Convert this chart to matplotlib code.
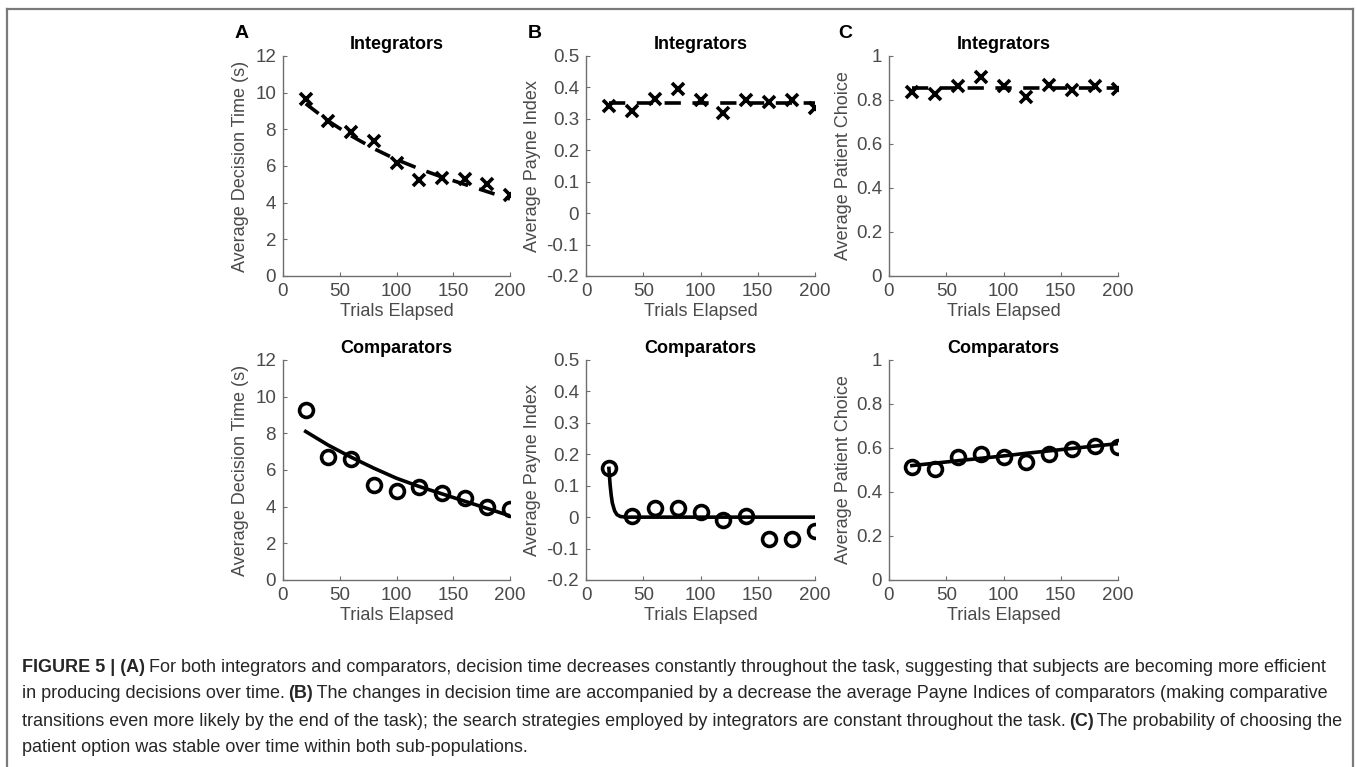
import numpy as np
import matplotlib
matplotlib.use("Agg")
import matplotlib.pyplot as plt
from matplotlib.lines import Line2D

plt.rcParams['font.family'] = ['Liberation Sans', 'DejaVu Sans']

# trials elapsed
trials = [20, 40, 60, 80, 100, 120, 140, 160, 180, 200]

# decision time (s)
dt_int = [9.67, 8.43, 7.83, 7.34, 6.19, 5.25, 5.32, 5.30, 5.00, 4.40]
dt_int_fit = [9.40, 8.45, 7.65, 6.95, 6.35, 5.85, 5.40, 5.00, 4.60, 4.20]
dt_cmp = [9.30, 6.70, 6.60, 5.20, 4.85, 5.10, 4.75, 4.50, 4.00, 3.85]
dt_cmp_fit = [8.10, 7.35, 6.70, 6.10, 5.55, 5.10, 4.70, 4.30, 3.90, 3.50]

# payne index
pi_int = [0.340, 0.325, 0.362, 0.396, 0.360, 0.320, 0.360, 0.355, 0.360, 0.333]
pi_int_fit = [0.35] * 10
pi_cmp = [0.155, 0.005, 0.030, 0.030, 0.015, -0.010, 0.005, -0.070, -0.068, -0.045]
pi_fit_x = [20, 21, 22, 23, 25, 27, 30, 35, 40, 200]
pi_fit_y = [0.155, 0.105, 0.070, 0.045, 0.020, 0.008, 0.002, 0.0, 0.0, 0.0]

# patient choice
pc_int = [0.835, 0.829, 0.865, 0.906, 0.864, 0.815, 0.870, 0.845, 0.862, 0.850]
pc_int_fit = [0.855] * 10
pc_cmp = [0.515, 0.505, 0.560, 0.575, 0.560, 0.535, 0.575, 0.595, 0.610, 0.605]
pc_cmp_fit = [0.520, 0.531, 0.542, 0.553, 0.564, 0.576, 0.587, 0.598, 0.609, 0.620]

W, H = 1357, 767
fig = plt.figure(figsize=(W / 100, H / 100), dpi=100)

gray_txt = '#4a4a4a'
gray_ax = '#6e6e6e'

lefts = [283, 586, 889]
widths = [227, 229, 229]
rows = [(56, 276), (360, 580)]

def make_ax(col, row):
    l = lefts[col]
    t, b = rows[row]
    ax = fig.add_axes([l / W, 1 - b / H, widths[col] / W, (b - t) / H])
    for s in ['top', 'right']:
        ax.spines[s].set_visible(False)
    for s in ['left', 'bottom']:
        ax.spines[s].set_color(gray_ax)
        ax.spines[s].set_linewidth(1.0)
    ax.tick_params(direction='in', length=3, width=0.8, colors=gray_ax,
                   labelcolor=gray_txt, labelsize=13.5, pad=5)
    ax.set_xlim(0, 200)
    ax.set_xticks([0, 50, 100, 150, 200])
    ax.set_xlabel('Trials Elapsed', fontsize=13, color=gray_txt, labelpad=2)
    return ax

ylabels = ['Average Decision Time (s)', 'Average Payne Index', 'Average Patient Choice']
ylab_x = [-0.15, -0.195, -0.16]

x_kw = dict(ls='none', marker='x', ms=8, mew=2.6, color='black')
o_kw = dict(ls='none', marker='o', ms=10, mew=2.6, mfc='none', mec='black')
dash_kw = dict(color='black', lw=2.6, dashes=(4.5, 3.2))
line_kw = dict(color='black', lw=2.6)

axes = {}
for row in range(2):
    for col in range(3):
        ax = make_ax(col, row)
        ax.set_title(['Integrators', 'Comparators'][row], fontsize=13,
                     fontweight='bold', pad=5)
        ax.set_ylabel(ylabels[col], fontsize=13, color=gray_txt)
        ax.yaxis.set_label_coords(ylab_x[col], 0.5)
        axes[(row, col)] = ax

# A
for row in range(2):
    ax = axes[(row, 0)]
    ax.set_ylim(0, 12)
    ax.set_yticks([0, 2, 4, 6, 8, 10, 12])
axes[(0, 0)].plot(trials, dt_int_fit, **dash_kw)
axes[(0, 0)].plot(trials, dt_int, **x_kw)
axes[(1, 0)].plot(trials, dt_cmp_fit, **line_kw)
axes[(1, 0)].plot(trials, dt_cmp, **o_kw)

# B
for row in range(2):
    ax = axes[(row, 1)]
    ax.set_ylim(-0.2, 0.5)
    ax.set_yticks([-0.2, -0.1, 0, 0.1, 0.2, 0.3, 0.4, 0.5])
    ax.set_yticklabels(['-0.2', '-0.1', '0', '0.1', '0.2', '0.3', '0.4', '0.5'])
axes[(0, 1)].plot(trials, pi_int_fit, **dash_kw)
axes[(0, 1)].plot(trials, pi_int, **x_kw)
axes[(1, 1)].plot(pi_fit_x, pi_fit_y, **line_kw)
axes[(1, 1)].plot(trials, pi_cmp, **o_kw)

# C
for row in range(2):
    ax = axes[(row, 2)]
    ax.set_ylim(0, 1)
    ax.set_yticks([0, 0.2, 0.4, 0.6, 0.8, 1])
    ax.set_yticklabels(['0', '0.2', '0.4', '0.6', '0.8', '1'])
axes[(0, 2)].plot(trials, pc_int_fit, **dash_kw)
axes[(0, 2)].plot(trials, pc_int, **x_kw)
axes[(1, 2)].plot(trials, pc_cmp_fit, **line_kw)
axes[(1, 2)].plot(trials, pc_cmp, **o_kw)

# panel letters
for letter, px in zip(['A', 'B', 'C'], [242, 535, 845]):
    fig.text(px / W, 1 - 33 / H, letter, fontsize=14, fontweight='bold',
             ha='center', va='center')

# frame around figure
fc = '#7a7a7a'
fig.add_artist(Line2D([7 / W, 1353 / W], [1 - 9 / H, 1 - 9 / H], color=fc, lw=1.6))
fig.add_artist(Line2D([7 / W, 7 / W], [1 - 9 / H, 0], color=fc, lw=1.6))
fig.add_artist(Line2D([1353 / W, 1353 / W], [1 - 9 / H, 0], color=fc, lw=1.6))

# caption, mixed bold / regular
caption = [
    [('FIGURE 5 | (A)', 'bold'), (' For both integrators and comparators, decision time decreases constantly throughout the task, suggesting that subjects are becoming more efficient', 'normal')],
    [('in producing decisions over time. ', 'normal'), ('(B)', 'bold'), (' The changes in decision time are accompanied by a decrease the average Payne Indices of comparators (making comparative', 'normal')],
    [('transitions even more likely by the end of the task); the search strategies employed by integrators are constant throughout the task. ', 'normal'), ('(C)', 'bold'), (' The probability of choosing the', 'normal')],
    [('patient option was stable over time within both sub-populations.', 'normal')],
]
cap_y = [668, 694, 721, 748]
renderer = fig.canvas.get_renderer()
for segs, yy in zip(caption, cap_y):
    x0 = 22
    for txt, wgt in segs:
        t = fig.text(x0 / W, 1 - yy / H, txt, fontsize=12.95, fontweight=wgt,
                     color='#262626', ha='left', va='center')
        bb = t.get_window_extent(renderer)
        x0 += bb.width - 1.5

fig.savefig('out.png', dpi=100)
